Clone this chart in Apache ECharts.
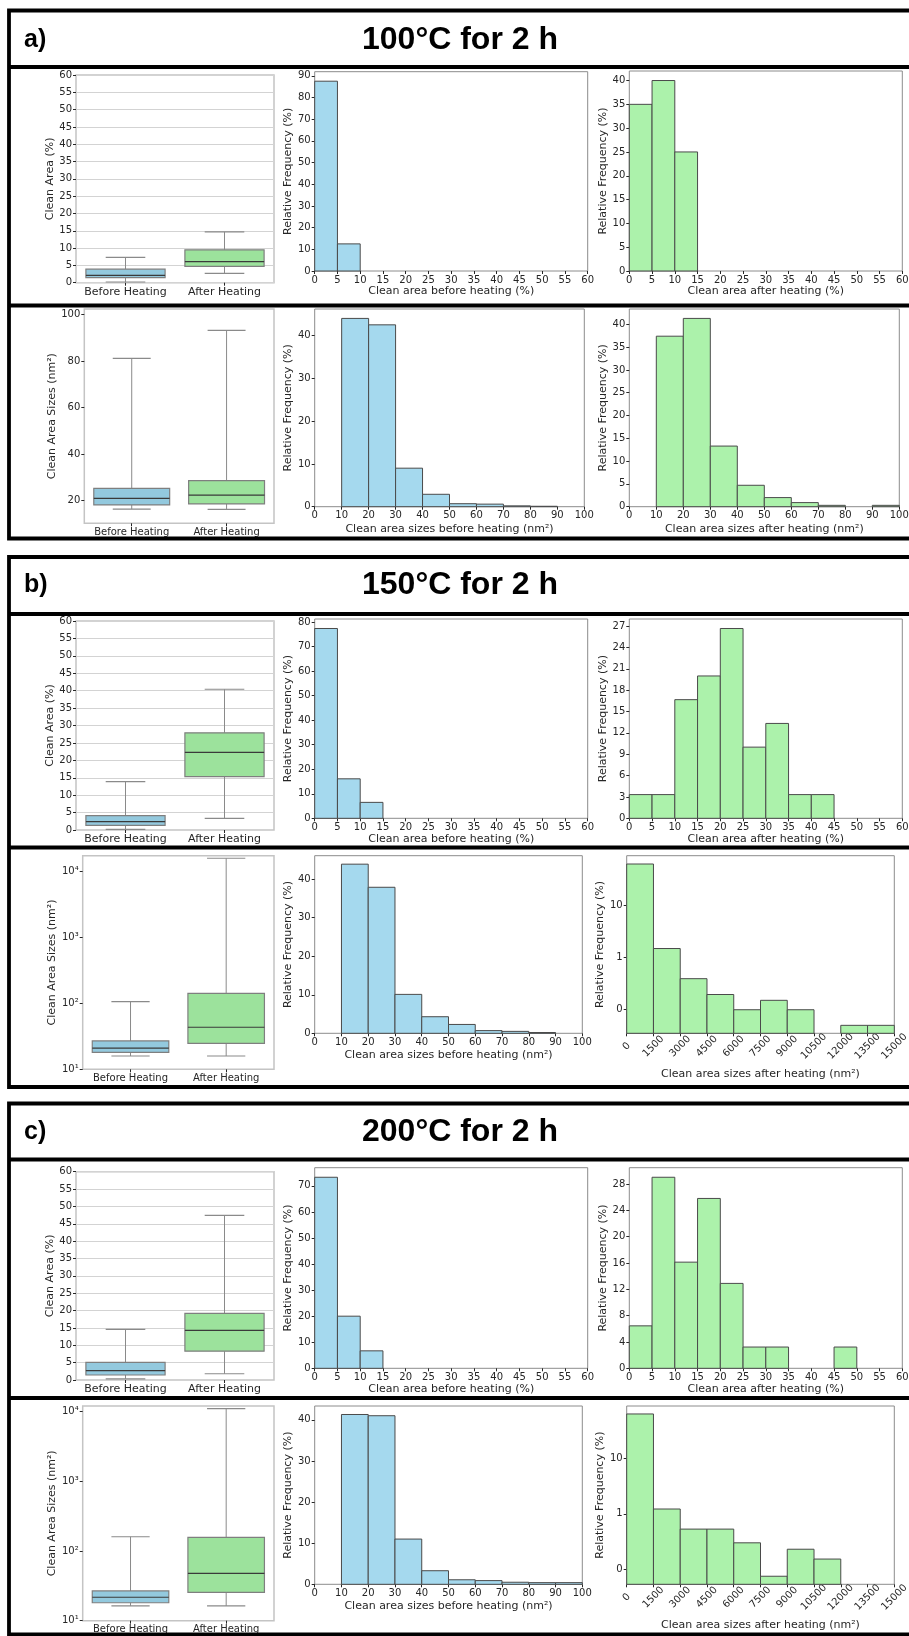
<!DOCTYPE html>
<html><head><meta charset="utf-8">
<script src="https://cdn.jsdelivr.net/npm/echarts@6/dist/echarts.min.js"></script>
<style>html,body{margin:0;padding:0;background:#fff}#c{width:909px;height:1636px}</style>
</head><body><div id="c"></div>
<script>
// ---------------- DATA ----------------
const boxCategories = ['Before Heating', 'After Heating'];
// each box: [lower whisker, Q1, median, Q3, upper whisker]
const boxA1 = [[0.2, 1.45, 2.1, 3.9, 7.3], [2.7, 4.7, 6.1, 9.5, 14.7]];
const boxA2 = [[16.4, 18.2, 21.0, 25.3, 81.1], [16.3, 18.6, 22.4, 28.6, 93.1]];
const boxB1 = [[0.2, 1.35, 2.4, 4.1, 13.9], [3.35, 15.3, 22.3, 27.9, 40.4]];
const boxB2 = [[15.9, 18.1, 20.9, 26.9, 106], [15.9, 24.8, 43.4, 142, 15900]];
const boxC1 = [[0.3, 1.44, 2.7, 5.1, 14.6], [1.8, 8.3, 14.3, 19.2, 47.4]];
const boxC2 = [[16.3, 18.1, 21.7, 26.7, 160], [16.3, 25.5, 47.9, 157, 11000]];

const pctBinStarts = [0, 5, 10, 15, 20, 25, 30, 35, 40, 45, 50, 55];
const sizeBinStarts = [0, 10, 20, 30, 40, 50, 60, 70, 80, 90];
const largeBinStarts = [0, 1500, 3000, 4500, 6000, 7500, 9000, 10500, 12000, 13500];

const histA1Before = [87.5, 12.5, 0, 0, 0, 0, 0, 0, 0, 0, 0, 0];
const histA1After = [35, 40, 25, 0, 0, 0, 0, 0, 0, 0, 0, 0];
const histA2Before = [0, 44.0, 42.5, 9.0, 2.9, 0.7, 0.6, 0.2, 0.1, 0];
const histA2After = [0, 37.4, 41.3, 13.3, 4.7, 2.0, 0.9, 0.3, 0, 0.3];
const histB1Before = [77.4, 16.1, 6.5, 0, 0, 0, 0, 0, 0, 0, 0, 0];
const histB1After = [3.33, 3.33, 16.67, 20.0, 26.67, 10.0, 13.33, 3.33, 3.33, 0, 0, 0];
const histB2Before = [0, 43.9, 37.9, 10.1, 4.3, 2.3, 0.7, 0.5, 0.2, 0];
const histB2After = [63.8, 1.49, 0.39, 0.193, 0.098, 0.149, 0.098, 0, 0.049, 0.049];
const histC1Before = [73.3, 20.0, 6.7, 0, 0, 0, 0, 0, 0, 0, 0, 0];
const histC1After = [6.45, 29.03, 16.13, 25.81, 12.9, 3.23, 3.23, 0, 0, 3.23, 0, 0];
const histC2Before = [0, 41.3, 41.0, 11.0, 3.3, 1.1, 0.9, 0.5, 0.4, 0.4];
const histC2After = [62.9, 1.22, 0.53, 0.53, 0.30, 0.075, 0.23, 0.153, 0, 0];

// tick values
const boxPctTicks = [0, 5, 10, 15, 20, 25, 30, 35, 40, 45, 50, 55, 60];
const boxSizeTicks = [20, 40, 60, 80, 100];
const boxLogLabels = ['10\u00b9', '10\u00b2', '10\u00b3', '10\u2074'];
const histLogLabels = ['0', '1', '10'];
const freqTicksA1Before = [0, 10, 20, 30, 40, 50, 60, 70, 80, 90];
const freqTicksA1After = [0, 5, 10, 15, 20, 25, 30, 35, 40];
const freqTicksB1Before = [0, 10, 20, 30, 40, 50, 60, 70, 80];
const freqTicksB1After = [0, 3, 6, 9, 12, 15, 18, 21, 24, 27];
const freqTicksC1Before = [0, 10, 20, 30, 40, 50, 60, 70];
const freqTicksC1After = [0, 4, 8, 12, 16, 20, 24, 28];
const freqTicksSize10 = [0, 10, 20, 30, 40];
const freqTicksSize5 = [0, 5, 10, 15, 20, 25, 30, 35, 40];

const titles = ['100\u00b0C for 2 h', '150\u00b0C for 2 h', '200\u00b0C for 2 h'];
const panelLetters = ['a)', 'b)', 'c)'];

// ---------------- STYLE / LAYOUT ----------------
const FONT = 'DejaVu Sans';
const INK = '#262626';
const BOX_FILL = ['#93c9de', '#9ce29c'];
const BOX_EDGE = '#7f7f7f';
const WHISK = '#8a8a8a';
const MEDIAN = '#3a3a3a';
const HIST_BLUE = '#a5d9ee';
const HIST_GREEN = '#acf2ab';
const HIST_EDGE = '#4a4a4a';

const L = {
  a: {title: 40, box1: [76, 75, 274, 282.7], h1b: [314.7, 71.7, 587.7, 271], h1a: [629.3, 71, 902.3, 271],
      box2: [84.3, 309, 274, 523.3], h2b: [314.7, 309, 584.3, 506.7], h2a: [629.3, 309, 899.3, 506.7],
      frame: [10.5, 538.5], div: [67, 305.5]},
  b: {title: 585, box1: [76, 621, 274, 830], h1b: [314.7, 619, 587.7, 818.3], h1a: [629.3, 619, 902.3, 818.3],
      box2: [82.7, 855.7, 274, 1069.3], h2b: [314.7, 855.7, 582.3, 1033.3], h2a: [626.7, 855.7, 894.3, 1033.3],
      frame: [557, 1087], div: [614, 847.5]},
  c: {title: 1132.5, box1: [76, 1171.7, 274, 1380], h1b: [314.7, 1167.7, 587.7, 1368.3], h1a: [629.3, 1167.7, 902.3, 1368.3],
      box2: [82.7, 1406, 274, 1620.7], h2b: [314.7, 1406, 582.3, 1584.3], h2a: [626.7, 1406, 894.3, 1584.3],
      frame: [1103.5, 1634.5], div: [1159.5, 1398]}
};

const grids = [], xAxes = [], yAxes = [], series = [];

function addGrid(r, frameColor, frameWidth) {
  grids.push({left: r[0], top: r[1], width: r[2] - r[0], height: r[3] - r[1], show: true,
    borderColor: frameColor, borderWidth: frameWidth, backgroundColor: 'rgba(0,0,0,0)',
    containLabel: false, outerBoundsMode: 'none'});
  return grids.length - 1;
}
function tick(extra) { return Object.assign({show: true, length: 3, inside: false, lineStyle: {color: INK, width: 1}}, extra || {}); }
function lbl(size, margin, extra) { return Object.assign({color: INK, fontFamily: FONT, fontSize: size, margin: margin}, extra || {}); }
const nameStyle = {color: INK, fontFamily: FONT, fontSize: 11};

function boxRender(params, api) {
  const cs = params.coordSys;
  const band = cs.width / boxCategories.length;
  const i = api.value(0);
  const cx = api.coord([i, api.value(3)])[0];
  const yv = k => api.coord([i, api.value(k)])[1];
  const yLo = yv(1), yQ1 = yv(2), yMed = yv(3), yQ3 = yv(4), yHi = yv(5);
  const hb = band * 0.4, hc = band * 0.2;
  const ln = (x1, y1, x2, y2, c, w) => ({type: 'line', shape: {x1, y1, x2, y2}, style: {stroke: c, lineWidth: w}});
  return {type: 'group', children: [
    ln(cx, yQ3, cx, yHi, WHISK, 1), ln(cx, yQ1, cx, yLo, WHISK, 1),
    ln(cx - hc, yHi, cx + hc, yHi, WHISK, 1.2), ln(cx - hc, yLo, cx + hc, yLo, WHISK, 1.2),
    {type: 'rect', shape: {x: cx - hb, y: yQ3, width: 2 * hb, height: yQ1 - yQ3},
     style: {fill: BOX_FILL[i], stroke: BOX_EDGE, lineWidth: 1.2}},
    ln(cx - hb, yMed, cx + hb, yMed, MEDIAN, 1.2)
  ]};
}

function addBox(rect, data, yAxisCfg, yName, yGap, catFont) {
  const gi = addGrid(rect, '#c4c4c4', 1.5);
  xAxes.push({type: 'category', gridIndex: gi, data: boxCategories, boundaryGap: true,
    axisLine: {show: false}, axisTick: tick({alignWithLabel: true}),
    axisLabel: lbl(catFont, 4, {interval: 0}), splitLine: {show: false}});
  yAxes.push(Object.assign({gridIndex: gi, name: yName, nameLocation: 'middle', nameGap: yGap,
    nameTextStyle: nameStyle, axisLine: {show: false}}, yAxisCfg));
  series.push({type: 'custom', xAxisIndex: xAxes.length - 1, yAxisIndex: yAxes.length - 1,
    data: data.map((d, i) => [i].concat(d)), encode: {x: 0, y: [1, 2, 3, 4, 5]},
    renderItem: boxRender, silent: true, z: 3});
}

function histRender(color) {
  return function (params, api) {
    const x0 = api.value(0), x1 = api.value(1), h = api.value(2);
    const p0 = api.coord([x0, h]), p1 = api.coord([x1, h]);
    const cs = params.coordSys;
    const bottom = cs.y + cs.height;
    return {type: 'rect', shape: {x: p0[0], y: p0[1], width: p1[0] - p0[0], height: bottom - p0[1]},
      style: {fill: color, stroke: HIST_EDGE, lineWidth: 1}};
  };
}

function addHist(rect, starts, values, color, xCfg, xName, xGap, yCfg, yGap) {
  const gi = addGrid(rect, '#8c8c8c', 1);
  const w = starts[1] - starts[0];
  xAxes.push(Object.assign({type: 'value', gridIndex: gi, name: xName, nameLocation: 'middle', nameGap: xGap,
    nameTextStyle: nameStyle, axisLine: {show: false}, axisTick: tick(), splitLine: {show: false}}, xCfg));
  yAxes.push(Object.assign({gridIndex: gi, name: 'Relative Frequency (%)', nameLocation: 'middle', nameGap: yGap,
    nameTextStyle: nameStyle, axisLine: {show: false}, splitLine: {show: false}}, yCfg));
  const data = starts.map((s, i) => [s, s + w, values[i]]).filter(d => d[2] > 0);
  series.push({type: 'custom', xAxisIndex: xAxes.length - 1, yAxisIndex: yAxes.length - 1,
    data: data, encode: {x: [0, 1], y: 2}, renderItem: histRender(color), silent: true, z: 3});
}

const maxOf = arr => Math.max.apply(null, arr) * 1.05;
function linY(ticks, values) {
  return {type: 'value', min: 0, max: maxOf(values),
    axisTick: tick({customValues: ticks}), axisLabel: lbl(10, 4, {customValues: ticks})};
}
function logY(min, max) {
  return {type: 'log', logBase: 10, min: min, max: max, axisTick: tick(),
    axisLabel: lbl(10, 4, {showMinLabel: false, showMaxLabel: false,
      formatter: v => histLogLabels[Math.round(Math.log10(v)) + 1] || ''})};
}
const plain = v => String(Math.round(v));
const pctX = {min: 0, max: 60, interval: 5, axisLabel: lbl(10, 4, {showMinLabel: true, showMaxLabel: true, formatter: plain})};
const sizeX = {min: 0, max: 100, interval: 10, axisLabel: lbl(10, 4, {showMinLabel: true, showMaxLabel: true, formatter: plain})};
const largeX = {min: 0, max: 15000, interval: 1500,
  axisLabel: lbl(10, 13, {rotate: 45, align: 'center', verticalAlign: 'middle', showMinLabel: true, showMaxLabel: true, formatter: plain})};

const boxPctY = {type: 'value', min: 0, max: 60, interval: 5, axisTick: tick(),
  axisLabel: lbl(10, 4, {showMinLabel: true, showMaxLabel: true}),
  splitLine: {show: true, lineStyle: {color: '#d3d3d3', width: 1}}};
const boxSizeY = {type: 'value', min: 10.3, max: 102.3, axisTick: tick({customValues: boxSizeTicks}),
  axisLabel: lbl(10, 4, {customValues: boxSizeTicks}), splitLine: {show: false}};
function boxLogY(max) {
  return {type: 'log', logBase: 10, min: 10, max: max, axisTick: tick(), splitLine: {show: false},
    axisLabel: lbl(10, 4, {showMinLabel: true, showMaxLabel: false,
      formatter: v => boxLogLabels[Math.round(Math.log10(v)) - 1] || ''})};
}

// ---------- panel a ----------
addBox(L.a.box1, boxA1, boxPctY, 'Clean Area (%)', 20, 11);
addHist(L.a.h1b, pctBinStarts, histA1Before, HIST_BLUE, pctX, 'Clean area before heating (%)', 15, linY(freqTicksA1Before, histA1Before), 19);
addHist(L.a.h1a, pctBinStarts, histA1After, HIST_GREEN, pctX, 'Clean area after heating (%)', 15, linY(freqTicksA1After, histA1After), 19);
addBox(L.a.box2, boxA2, boxSizeY, 'Clean Area Sizes (nm\u00b2)', 25.5, 10);
addHist(L.a.h2b, sizeBinStarts, histA2Before, HIST_BLUE, sizeX, 'Clean area sizes before heating (nm\u00b2)', 16.5, linY(freqTicksSize10, histA2Before), 19);
addHist(L.a.h2a, sizeBinStarts, histA2After, HIST_GREEN, sizeX, 'Clean area sizes after heating (nm\u00b2)', 16.5, linY(freqTicksSize5, histA2After), 19);
// ---------- panel b ----------
addBox(L.b.box1, boxB1, boxPctY, 'Clean Area (%)', 20, 11);
addHist(L.b.h1b, pctBinStarts, histB1Before, HIST_BLUE, pctX, 'Clean area before heating (%)', 15, linY(freqTicksB1Before, histB1Before), 19);
addHist(L.b.h1a, pctBinStarts, histB1After, HIST_GREEN, pctX, 'Clean area after heating (%)', 15, linY(freqTicksB1After, histB1After), 19);
addBox(L.b.box2, boxB2, boxLogY(17378), 'Clean Area Sizes (nm\u00b2)', 24, 10);
addHist(L.b.h2b, sizeBinStarts, histB2Before, HIST_BLUE, sizeX, 'Clean area sizes before heating (nm\u00b2)', 16.5, linY(freqTicksSize10, histB2Before), 19);
addHist(L.b.h2a, largeBinStarts, histB2After, HIST_GREEN, largeX, 'Clean area sizes after heating (nm\u00b2)', 35.5, logY(0.0344, 92.3), 18.5);
// ---------- panel c ----------
addBox(L.c.box1, boxC1, boxPctY, 'Clean Area (%)', 20, 11);
addHist(L.c.h1b, pctBinStarts, histC1Before, HIST_BLUE, pctX, 'Clean area before heating (%)', 15, linY(freqTicksC1Before, histC1Before), 19);
addHist(L.c.h1a, pctBinStarts, histC1After, HIST_GREEN, pctX, 'Clean area after heating (%)', 15, linY(freqTicksC1After, histC1After), 19);
addBox(L.c.box2, boxC2, boxLogY(12023), 'Clean Area Sizes (nm\u00b2)', 24, 10);
addHist(L.c.h2b, sizeBinStarts, histC2Before, HIST_BLUE, sizeX, 'Clean area sizes before heating (nm\u00b2)', 16.5, linY(freqTicksSize10, histC2Before), 19);
addHist(L.c.h2a, largeBinStarts, histC2After, HIST_GREEN, largeX, 'Clean area sizes after heating (nm\u00b2)', 35.5, logY(0.0537, 87.5), 18.5);

// ---------- frames & titles ----------
const graphics = [];
['a', 'b', 'c'].forEach((k, idx) => {
  const p = L[k];
  graphics.push({type: 'rect', shape: {x: 9, y: p.frame[0], width: 960, height: p.frame[1] - p.frame[0]},
    style: {fill: 'none', stroke: '#000', lineWidth: 3.8}, z: 100});
  p.div.forEach(y => graphics.push({type: 'line', shape: {x1: 9, y1: y, x2: 960, y2: y},
    style: {stroke: '#000', lineWidth: 4.2}, z: 100}));
  graphics.push({type: 'text', x: 24, y: p.title, z: 100, style: {text: panelLetters[idx], fill: '#000',
    font: 'bold 25px "Liberation Sans", Arial, sans-serif', textAlign: 'left', textVerticalAlign: 'middle', verticalAlign: 'middle'}});
  graphics.push({type: 'text', x: 460, y: p.title, z: 100, style: {text: titles[idx], fill: '#000',
    font: 'bold 32px "Liberation Sans", Arial, sans-serif', textAlign: 'center', textVerticalAlign: 'middle', verticalAlign: 'middle'}});
});

const chart = echarts.init(document.getElementById('c'), null, {renderer: 'canvas', width: 909, height: 1636});
chart.setOption({
  animation: false,
  backgroundColor: '#ffffff',
  textStyle: {fontFamily: FONT},
  grid: grids, xAxis: xAxes, yAxis: yAxes, series: series,
  graphic: {elements: graphics}
});
</script></body></html>
